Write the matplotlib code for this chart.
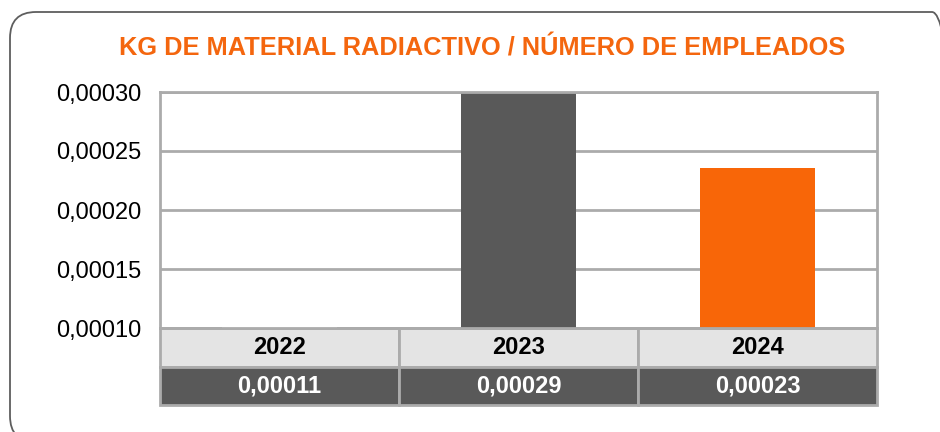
import matplotlib
matplotlib.use("Agg")
import matplotlib.pyplot as plt
from matplotlib import font_manager
from matplotlib.patches import FancyBboxPatch
from matplotlib.transforms import IdentityTransform

plt.rcParams['font.family'] = ['Liberation Sans', 'DejaVu Sans']

title = "KG DE MATERIAL RADIACTIVO / NÚMERO DE EMPLEADOS"
years = ["2022", "2023", "2024"]
values = [0.00011, 0.00030, 0.000236]
value_labels = ["0,00011", "0,00029", "0,00023"]
y_ticks = [0.00010, 0.00015, 0.00020, 0.00025, 0.00030]
y_tick_labels = ["0,00010", "0,00015", "0,00020", "0,00025", "0,00030"]
bar_colors = ["#FFFFFF", "#595959", "#F86608"]

W, H = 940, 432
fig = plt.figure(figsize=(W / 100, H / 100), dpi=100)
fig.patch.set_facecolor("white")

# rounded frame
frame = FancyBboxPatch((10, -10), 948, 432 - 12 + 10,
                       boxstyle="round,pad=0,rounding_size=26",
                       transform=IdentityTransform(), facecolor="none",
                       edgecolor="#5e5e5e", linewidth=1.3)
fig.patches.append(frame)

names = {f.name for f in font_manager.fontManager.ttflist}
if "Liberation Sans Narrow" in names:
    tfam, tsize = ["Liberation Sans Narrow", "DejaVu Sans"], 21.5
else:
    tfam, tsize = ["Liberation Sans", "DejaVu Sans"], 18.3
fig.text(482 / W, 1 - 48 / H, title, ha="center", va="center",
         fontsize=tsize, fontweight="bold", color="#F4660E", family=tfam)

left, right, top, bottom = 160, 877, 92, 328
ax = fig.add_axes([left / W, 1 - bottom / H, (right - left) / W, (bottom - top) / H])
ax.set_axisbelow(True)
x = list(range(len(years)))
ax.bar(x, values, width=0.48, color=bar_colors, zorder=2)
ax.set_xlim(-0.5, len(years) - 0.5)
ax.set_ylim(y_ticks[0], y_ticks[-1])
ax.set_yticks(y_ticks)
ax.set_yticklabels(y_tick_labels, fontsize=17)
ax.tick_params(axis="y", length=0, pad=13.5)
ax.set_xticks([])
ax.yaxis.grid(True, color="#ABABAB", linewidth=2)
for s in ["left", "right", "top", "bottom"]:
    ax.spines[s].set_color("#ABABAB")
    ax.spines[s].set_linewidth(2)
    ax.spines[s].set_zorder(3)

# data table below the plot
h_tab = (405 - 328) / (bottom - top)
tab = ax.table(cellText=[value_labels], colLabels=years, cellLoc="center",
               bbox=[0, -h_tab, 1, h_tab])
tab.auto_set_font_size(False)
for (r, c), cell in tab.get_celld().items():
    cell.set_edgecolor("#ABABAB")
    cell.set_linewidth(2)
    txt = cell.get_text()
    txt.set_fontsize(17)
    txt.set_fontweight("bold")
    if r == 0:
        cell.set_facecolor("#E4E4E4")
        txt.set_color("black")
    else:
        cell.set_facecolor("#595959")
        txt.set_color("white")

fig.savefig("out.png", dpi=100, facecolor="white")
